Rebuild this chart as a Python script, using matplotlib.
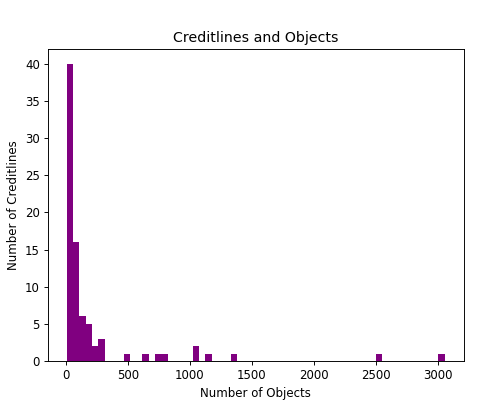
import matplotlib
matplotlib.use('Agg')
import matplotlib.pyplot as plt

# number of objects per creditline (one value per non-empty bin) and how many creditlines
objects = [35, 85, 137, 188, 238, 289, 492, 645, 746, 797, 1050, 1152, 1355, 2522, 3030]
creditlines = [40, 16, 6, 5, 2, 3, 1, 1, 1, 1, 2, 1, 1, 1, 1]

# range of the data in the histogram
obj_min = 10
obj_max = 3055
n_bins = 60

# reference looks like a bigger figure shrunk to 480x406
dpi = 84.6
fig = plt.figure(figsize=(480 / dpi, 406 / dpi), dpi=dpi)
ax = fig.add_axes([0.1, 0.111, 0.866, 0.768])

ax.hist(objects, bins=n_bins, range=(obj_min, obj_max), weights=creditlines, color='purple')

ax.set_title('Creditlines and Objects')
ax.set_xlabel('Number of Objects')
ax.set_ylabel('Number of Creditlines')

fig.savefig('out.png', dpi=dpi)
